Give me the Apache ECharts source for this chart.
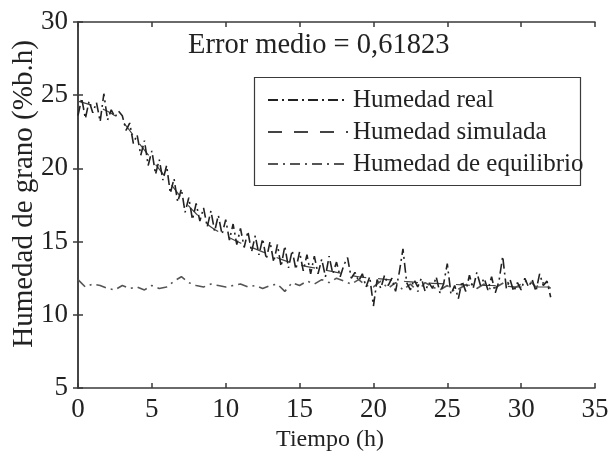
<!DOCTYPE html>
<html><head><meta charset="utf-8">
<script src="https://cdn.jsdelivr.net/npm/echarts@6/dist/echarts.min.js"></script>
<style>html,body{margin:0;padding:0;background:#fff}#c{width:615px;height:459px}</style>
</head><body><div id="c"></div>
<script>
var realT0 = 0, realStep = 0.25;
var realValues = [
23.6,24.8,23.4,24.6,23.8,24.5,23.2,25.1,23.3,24.0,23.5,23.9,
23.6,22.6,23.1,21.7,22.3,20.9,21.9,20.2,21.2,19.6,20.6,19.2,
20.2,18.3,19.3,17.7,18.6,17.0,18.0,16.5,17.6,16.4,17.3,16.0,
17.1,15.7,16.8,15.5,16.5,15.1,16.2,14.8,15.9,14.6,15.7,14.3,
15.4,14.1,15.2,13.8,15.0,13.6,14.8,13.3,14.7,13.2,14.4,13.1,
14.3,13.0,14.1,12.8,14.0,12.8,13.8,12.6,14.0,12.8,13.6,12.6,
13.4,13.9,12.5,12.9,12.3,12.8,11.9,12.6,10.6,12.4,11.8,12.7,
12.0,12.5,11.6,12.9,14.5,12.2,11.7,12.4,11.9,12.5,11.6,12.2,
11.8,12.6,11.5,12.1,13.5,11.4,12.0,11.1,12.3,11.6,12.7,11.8,
12.9,12.0,12.5,11.7,12.6,11.5,12.3,14.0,11.8,12.4,11.6,12.2,
11.7,12.5,11.9,12.4,11.6,12.8,12.0,12.3,11.2
];
var simT0 = 0, simStep = 1;
var simValues = [24.6,24.3,23.9,23.2,21.9,20.6,19.3,18.0,16.9,16.0,15.4,14.9,14.5,14.1,13.7,13.4,13.2,13.0,12.8,12.6,12.5,12.4,12.3,12.2,12.15,12.1,12.05,12.0,12.0,11.95,11.9,11.9,11.9];
var eqT0 = 0, eqStep = 0.5;
var eqValues = [
12.4,11.9,12.1,12.0,11.8,11.7,12.0,11.8,11.9,11.7,12.0,11.8,11.9,12.3,12.6,12.2,
12.0,11.9,12.1,12.0,11.9,12.0,12.1,11.9,12.0,11.8,12.0,12.1,11.6,12.2,12.0,12.3,
12.1,12.4,12.2,12.5,12.3,12.1,12.4,12.0,11.9,12.3,11.8,12.2,11.7,12.1,11.6,12.2,
11.9,11.7,12.0,11.6,11.9,12.2,11.8,12.1,11.7,12.0,12.3,11.8,12.1,12.4,11.9,12.2,11.8
];
var seriesNames = ['Humedad real','Humedad simulada','Humedad de equilibrio'];
var xTicks = [0,5,10,15,20,25,30,35];
var yTicks = [5,10,15,20,25,30];

function pairs(t0, step, vals){ return vals.map(function(v,i){ return [t0 + i*step, v]; }); }

var F = '"Liberation Serif","DejaVu Serif",serif';
var chart = echarts.init(document.getElementById('c'), null, {renderer:'canvas'});
var axisLine = {show:true, lineStyle:{color:'#3a3a3a', width:1.5}};
var tick = {show:true, inside:true, length:5, lineStyle:{color:'#3a3a3a', width:1.5}};
chart.setOption({
  animation:false,
  backgroundColor:'#fff',
  grid:{left:78, right:20, top:22, bottom:71},
  title:{text:'Error medio = 0,61823', left:188, top:31, padding:0,
    textStyle:{fontFamily:F, fontSize:28.5, fontWeight:'normal', color:'#222'}},
  legend:{orient:'vertical', left:267, top:87, padding:0, itemWidth:80, itemHeight:14, itemGap:6,
    data:seriesNames, itemStyle:{opacity:0},
    textStyle:{fontFamily:F, fontSize:25, color:'#222', lineHeight:26}},
  graphic:[
    {type:'rect', left:252, top:75, shape:{width:326, height:108}, style:{fill:null, stroke:'#3a3a3a', lineWidth:1.2}, z:0},
    {type:'text', x:24, y:194, rotation:Math.PI/2, style:{text:'Humedad de grano (%b.h)', fontFamily:F, fontSize:29, fill:'#222', align:'center', verticalAlign:'middle'}},
    {type:'text', x:330, y:440, style:{text:'Tiempo (h)', fontFamily:F, fontSize:24, fill:'#222', align:'center', verticalAlign:'middle'}}
  ],
  xAxis:[
    {type:'value', min:0, max:35, interval:5, axisLine:axisLine, axisTick:tick, splitLine:{show:false},
     axisLabel:{fontFamily:F, fontSize:27, color:'#222', margin:8}},
    {type:'value', position:'top', min:0, max:35, interval:5, axisLine:axisLine, axisTick:tick, splitLine:{show:false}, axisLabel:{show:false}}
  ],
  yAxis:[
    {type:'value', min:5, max:30, interval:5, axisLine:axisLine, axisTick:tick, splitLine:{show:false},
     axisLabel:{fontFamily:F, fontSize:27, color:'#222', margin:10}},
    {type:'value', position:'right', min:5, max:30, interval:5, axisLine:axisLine, axisTick:tick, splitLine:{show:false}, axisLabel:{show:false}}
  ],
  series:[
    {name:seriesNames[0], type:'line', symbol:'none', data:pairs(realT0, realStep, realValues),
     lineStyle:{color:'#222', width:1.6, type:[10,4,2,4]}, itemStyle:{color:'#222'}, z:3},
    {name:seriesNames[1], type:'line', symbol:'none', data:pairs(simT0, simStep, simValues), smooth:0.3,
     lineStyle:{color:'#444', width:1.2, type:[14,12]}, itemStyle:{color:'#444'}, z:2},
    {name:seriesNames[2], type:'line', symbol:'none', data:pairs(eqT0, eqStep, eqValues),
     lineStyle:{color:'#555', width:1.6, type:[10,5,2,5]}, itemStyle:{color:'#555'}, z:2}
  ]
});
</script></body></html>
